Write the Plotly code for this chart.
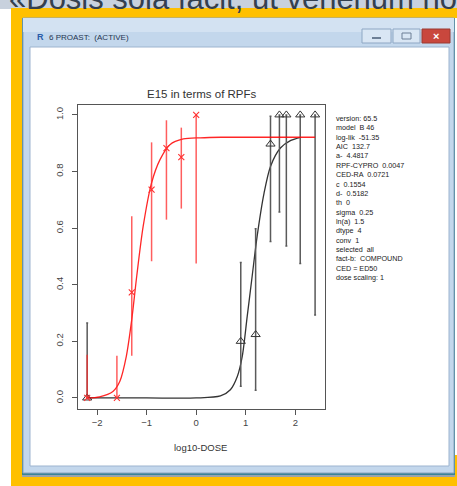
import plotly.graph_objects as go

# ---------------- data ----------------
red_x = [-2.2, -1.6, -1.3, -0.9, -0.6, -0.3, 0.0]
red_y = [0.0, 0.0, 0.373, 0.736, 0.883, 0.851, 1.0]
red_lo = [0.0, 0.0, 0.149, 0.483, 0.630, 0.669, 0.475]
red_hi = [0.153, 0.149, 0.642, 0.903, 0.981, 0.955, 1.0]

blk_x = [-2.2, 0.9, 1.2, 1.5, 1.68, 1.82, 2.1, 2.4]
blk_y = [0.0, 0.2, 0.224, 0.897, 1.0, 1.0, 1.0, 1.0]
blk_lo = [0.0, 0.041, 0.027, 0.553, 0.657, 0.537, 0.475, 0.293]
blk_hi = [0.265, 0.479, 0.598, 0.995, 1.0, 1.0, 1.0, 1.0]

red_curve_x = [-2.2, -1.95, -1.68, -1.54, -1.41, -1.30, -1.20, -1.07, -0.90,
               -0.73, -0.53, -0.26, 0.08, 0.5, 1.0, 1.5, 2.0, 2.4]
red_curve_y = [0.0, 0.004, 0.023, 0.059, 0.147, 0.277, 0.43, 0.606, 0.76,
               0.842, 0.895, 0.915, 0.919, 0.921, 0.921, 0.921, 0.921, 0.921]

blk_curve_x = [-2.2, -1.0, 0.0, 0.49, 0.69, 0.83, 0.93, 1.03, 1.13, 1.23,
               1.37, 1.50, 1.70, 1.91, 2.11]
blk_curve_y = [0.0, 0.0, 0.0, 0.007, 0.029, 0.076, 0.147, 0.288, 0.43, 0.571,
               0.724, 0.818, 0.883, 0.91, 0.921]

x_ticks = [-2, -1, 0, 1, 2]
y_ticks = [0.0, 0.2, 0.4, 0.6, 0.8, 1.0]
y_tick_labels = ["0.0", "0.2", "0.4", "0.6", "0.8", "1.0"]

info_lines = [
    "version: 65.5", "model  B 46", "log-lik  -51.35", "AIC  132.7",
    "a-  4.4817", "RPF-CYPRO  0.0047", "CED-RA  0.0721", "c  0.1554",
    "d-  0.5182", "th  0", "sigma  0.25", "ln(a)  1.5", "dtype  4",
    "conv  1", "selected  all", "fact-b:  COMPOUND", "CED = ED50",
    "dose scaling: 1",
]

chart_title = "E15 in terms of RPFs"
x_title = "log10-DOSE"
window_title = "6 PROAST:  (ACTIVE)"
slide_text = "«Dosis sola facit, ut venenum non fit»"

# ---------------- geometry helpers ----------------
W, H = 457, 486
ML, MR, MT, MB = 78, 132, 105, 77
PW, PH = W - ML - MR, H - MT - MB


def px(x):
    return (x - ML) / PW


def py(y):
    return (H - MB - y) / PH


def rect(x0, y0, x1, y1, fill, line=None, lw=0, layer="below"):
    return dict(type="rect", xref="paper", yref="paper",
                x0=px(x0), x1=px(x1), y0=py(y1), y1=py(y0),
                fillcolor=fill, line=dict(color=line or fill, width=lw),
                layer=layer)


fig = go.Figure()

# black series
fig.add_trace(go.Scatter(
    x=blk_curve_x, y=blk_curve_y, mode="lines",
    line=dict(color="#333333", width=1.3, shape="spline", smoothing=0.8),
    hoverinfo="skip", showlegend=False))
fig.add_trace(go.Scatter(
    x=blk_x, y=blk_y, mode="markers",
    marker=dict(symbol="triangle-up-open", size=8, color="#333333",
                line=dict(width=1)),
    error_y=dict(type="data", symmetric=False,
                 array=[h - v for h, v in zip(blk_hi, blk_y)],
                 arrayminus=[v - l for v, l in zip(blk_y, blk_lo)],
                 color="#5a5a5a", thickness=1.5, width=1),
    showlegend=False))

# red series
fig.add_trace(go.Scatter(
    x=red_curve_x, y=red_curve_y, mode="lines",
    line=dict(color="rgba(255,0,0,0.85)", width=1.3, shape="spline",
              smoothing=0.8),
    hoverinfo="skip", showlegend=False))
fig.add_trace(go.Scatter(
    x=red_x, y=red_y, mode="markers",
    marker=dict(symbol="x-thin-open", size=6, color="#ff3030",
                line=dict(width=1.1, color="#ff3030")),
    error_y=dict(type="data", symmetric=False,
                 array=[h - v for h, v in zip(red_hi, red_y)],
                 arrayminus=[v - l for v, l in zip(red_y, red_lo)],
                 color="rgba(255,40,40,0.75)", thickness=1.5, width=0),
    showlegend=False))

shapes = [
    # slide top strip
    rect(0, 0, W, 9, "#c8d1dd"),
    # yellow frame
    rect(11, 8, W, H, "#ffc000"),
    # white gap at right of window
    rect(454, 18, W, 455, "#ffffff"),
    # window shadow / border
    rect(22, 18, 455, 477, "#9aa3ad"),
    rect(22, 18, 455, 475, "#3a8596"),
    rect(23, 18, 454, 473, "#c3d7ec", line="#8aa2bd", lw=1),
    # title bar
    rect(23, 18, 454, 32, "#d3e2f2"),
    # content
    rect(30, 47, 449, 466, "#ffffff", line="#9db4cf", lw=1),
    # buttons
    rect(362, 29, 391, 43, "#d9e6f4", line="#8ea7c4", lw=1),
    rect(393, 29, 420, 43, "#d9e6f4", line="#8ea7c4", lw=1),
    rect(422, 29, 450, 43, "#c9473d", line="#9a3a33", lw=1),
    rect(372, 37, 381, 39, "#6d7f96"),
    rect(402, 33, 411, 39, "#d9e6f4", line="#6d7f96", lw=1),
]

annotations = [
    dict(text=slide_text, x=px(7), y=py(18), xref="paper", yref="paper",
         xanchor="left", yanchor="bottom", showarrow=False,
         font=dict(family="Liberation Sans, Arial", size=31, color="#34404f")),
    dict(text="<b>R</b>", x=px(40), y=py(37), xref="paper", yref="paper",
         xanchor="center", yanchor="middle", showarrow=False,
         font=dict(family="Liberation Sans, Arial", size=9, color="#2a5caa")),
    dict(text=window_title, x=px(47), y=py(37), xref="paper", yref="paper",
         xanchor="left", yanchor="middle", showarrow=False,
         font=dict(family="Liberation Sans, Arial", size=8, color="#1f3550")),
    dict(text="<b>×</b>", x=px(436), y=py(36), xref="paper", yref="paper",
         xanchor="center", yanchor="middle", showarrow=False,
         font=dict(family="Liberation Sans, Arial", size=11, color="#ffffff")),
    dict(text=chart_title, x=0.5, y=py(94), xref="paper", yref="paper",
         xanchor="center", yanchor="middle", showarrow=False,
         font=dict(family="Liberation Sans, Arial", size=11.5, color="#333333")),
    dict(text=x_title, x=px(200), y=py(447), xref="paper", yref="paper",
         xanchor="center", yanchor="middle", showarrow=False,
         font=dict(family="Liberation Sans, Arial", size=9.5, color="#333333")),
    dict(text="<br>".join(info_lines), x=px(334), y=py(112),
         xref="paper", yref="paper", xanchor="left", yanchor="top",
         align="left", showarrow=False,
         font=dict(family="Liberation Sans, Arial", size=7.2, color="#222222")),
]

axis_common = dict(showgrid=False, zeroline=False, showline=True, mirror=True,
                   linecolor="#555555", linewidth=1, ticks="outside",
                   ticklen=5, tickwidth=1, tickcolor="#555555",
                   tickfont=dict(family="Liberation Sans, Arial", size=9.5,
                                 color="#444444"))

fig.update_layout(
    width=W, height=H,
    margin=dict(l=ML, r=MR, t=MT, b=MB, autoexpand=False),
    paper_bgcolor="#ffffff", plot_bgcolor="rgba(0,0,0,0)",
    xaxis=dict(range=[-2.385, 2.6], tickvals=x_ticks, **axis_common),
    yaxis=dict(range=[-0.039, 1.035], tickvals=y_ticks, ticktext=y_tick_labels,
               tickangle=-90, ticklabelstandoff=5, **axis_common),
    shapes=shapes, annotations=annotations,
)

fig.write_html(
    "out.html",
    config={"displayModeBar": False},
    post_script="document.body.style.margin='0';"
                "document.body.style.overflow='hidden';",
)
